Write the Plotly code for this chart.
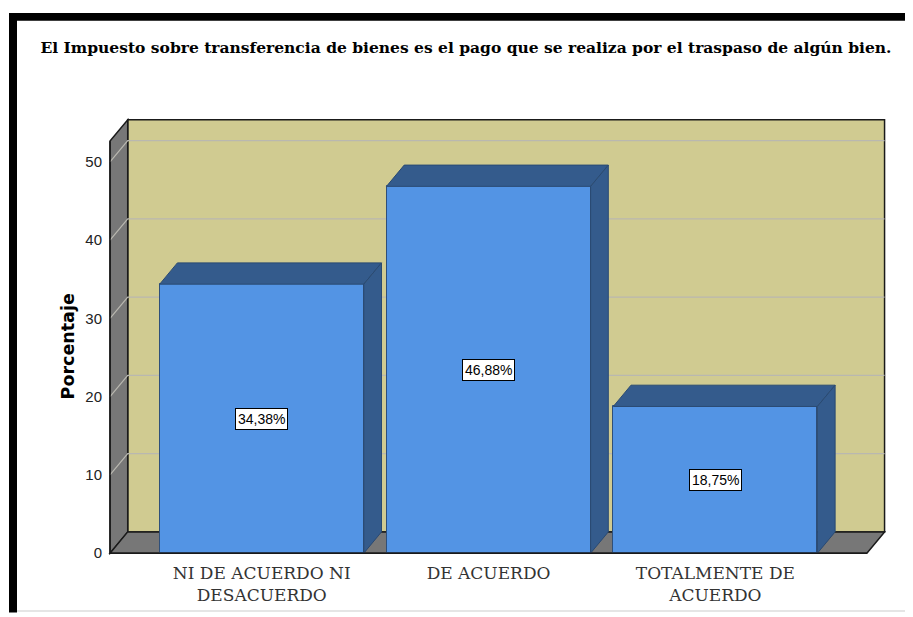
import plotly.graph_objects as go

# ---- data ----
categories = ["NI DE ACUERDO NI<br>DESACUERDO", "DE ACUERDO", "TOTALMENTE DE<br>ACUERDO"]
values = [34.38, 46.88, 18.75]
value_labels = ["34,38%", "46,88%", "18,75%"]
y_ticks = [0, 10, 20, 30, 40, 50]
title_text = "El Impuesto sobre transferencia de bienes es el pago que se realiza por el traspaso de algún bien."
y_title = "Porcentaje"

# ---- style / geometry ----
OFF = 8                        # browser body margin
W, H = 913 - OFF, 617 - OFF
L, R, T, B = 95, 23, 107, 52
XR = [-0.70, 2.77]
YR = [-1.0, 56.0]
DX, DY = 0.078, 2.72          # 3D depth offset in data units
BAR_W = 0.90
X0, X1 = -0.669, 2.668        # front floor left / right
YTOP = 52.66                   # front top of the left wall
FRONT = "#5394e4"
DARK = "#345b8c"
KHAKI = "#d0cb91"
GREY = "#777777"

xs = list(range(len(categories)))
fig = go.Figure()

def px(xp):   # page pixel -> paper
    return (xp - OFF - L) / (W - L - R)
def py(yp):
    return (H - B - (yp - OFF)) / (H - T - B)

shapes = []
def poly(pts, fill, line="#1a1a1a", width=1, layer="below"):
    d = "M " + " L ".join(f"{x},{y}" for x, y in pts) + " Z"
    shapes.append(dict(type="path", path=d, xref="x", yref="y", fillcolor=fill,
                       line=dict(color=line, width=width), layer=layer))

# back wall
poly([(X0 + DX, DY), (X1 + DX, DY), (X1 + DX, YTOP + DY), (X0 + DX, YTOP + DY)], KHAKI, width=1.5)
# left wall
poly([(X0, 0), (X0 + DX, DY), (X0 + DX, YTOP + DY), (X0, YTOP)], GREY, width=1.5)
# floor
poly([(X0, 0), (X1, 0), (X1 + DX, DY), (X0 + DX, DY)], GREY, width=1.5)
# gridlines (left wall diagonal + back wall)
for v in y_ticks[1:]:
    shapes.append(dict(type="path", xref="x", yref="y", layer="below",
                       path=f"M {X0},{v} L {X0+DX},{v+DY} L {X1+DX},{v+DY}",
                       line=dict(color="#b9b8b0", width=1.2)))

# front bars
fig.add_trace(go.Bar(x=xs, y=values, width=BAR_W, marker=dict(color=FRONT, line=dict(color="#2e4f7a", width=1)),
                     hoverinfo="skip", showlegend=False))

# top and side faces of bars
for x, v in zip(xs, values):
    xl, xr = x - BAR_W / 2, x + BAR_W / 2
    fig.add_trace(go.Scatter(x=[xl, xr, xr + DX, xl + DX, xl], y=[v, v, v + DY, v + DY, v],
                             fill="toself", fillcolor=DARK, mode="lines",
                             line=dict(color="#2a4a72", width=1), hoverinfo="skip", showlegend=False))
    fig.add_trace(go.Scatter(x=[xr, xr + DX, xr + DX, xr, xr], y=[0, DY, v + DY, v, 0],
                             fill="toself", fillcolor=DARK, mode="lines",
                             line=dict(color="#2a4a72", width=1), hoverinfo="skip", showlegend=False))

# front y axis line and floor front edge
fig.add_trace(go.Scatter(x=[X0, X0, X1], y=[YTOP, 0, 0], mode="lines",
                         line=dict(color="#1a1a1a", width=1.5), hoverinfo="skip", showlegend=False))

annotations = []
for x, v, t in zip(xs, values, value_labels):
    annotations.append(dict(x=x, y=v / 2, xref="x", yref="y", text=t, showarrow=False,
                            font=dict(family="Arial, Liberation Sans", size=14, color="black"),
                            bgcolor="white", bordercolor="black", borderwidth=1, borderpad=2))
annotations.append(dict(x=px(56), y=py(348.5), xref="paper", yref="paper", text=f"<b>{y_title}</b>",
                        showarrow=False, textangle=-90,
                        font=dict(family="DejaVu Sans", size=17.5, color="black")))

# frame borders
shapes.append(dict(type="rect", xref="paper", yref="paper", x0=px(9), x1=px(913), y0=py(20), y1=py(12),
                   fillcolor="black", line=dict(width=0), layer="above"))
shapes.append(dict(type="rect", xref="paper", yref="paper", x0=px(9), x1=px(17), y0=py(617), y1=py(12),
                   fillcolor="black", line=dict(width=0), layer="above"))
shapes.append(dict(type="line", xref="paper", yref="paper", x0=px(17), x1=px(913), y0=py(615.5), y1=py(615.5),
                   line=dict(color="#dddddd", width=1.5), layer="above"))

fig.update_layout(
    width=W, height=H,
    margin=dict(l=L, r=R, t=T, b=B, pad=0),
    paper_bgcolor="white", plot_bgcolor="white",
    title=dict(text=f"<b>{title_text}</b>", x=(466 - OFF) / W, xanchor="center", y=1 - (48 - OFF) / H,
               yanchor="middle", xref="container", yref="container",
               font=dict(family="DejaVu Serif", size=15.5, color="black")),
    xaxis=dict(range=XR, tickvals=xs, ticktext=categories, showgrid=False, zeroline=False, showline=False,
               ticks="", tickfont=dict(family="DejaVu Serif", size=17, color="#333333")),
    yaxis=dict(range=YR, tickvals=y_ticks, showgrid=False, zeroline=False, showline=False, ticks="",
               tickfont=dict(family="Arial, Liberation Sans", size=15, color="#222222")),
    shapes=shapes, annotations=annotations, bargap=0,
)
fig.write_html("out.html")
